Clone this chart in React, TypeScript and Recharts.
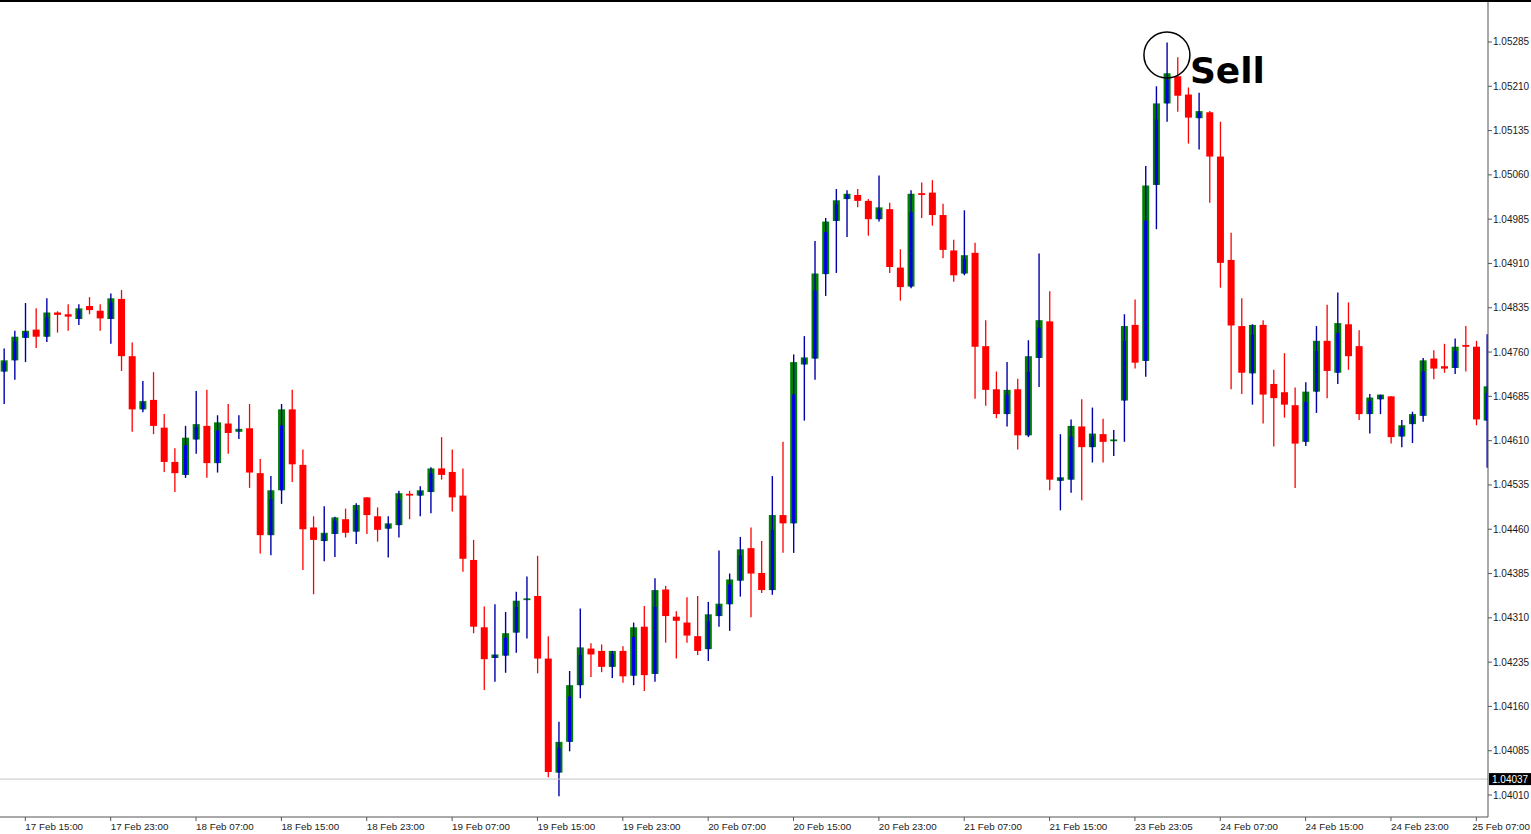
import React from 'react';
import { ComposedChart, Bar, XAxis, YAxis, ReferenceLine, ReferenceDot } from 'recharts';

const opens = [1.04727,1.04746,1.04784,1.04798,1.04786,1.04827,1.04824,1.04816,1.04838,1.04830,
1.04816,1.04850,1.04753,1.04663,1.04679,1.04632,1.04574,1.04552,1.04612,1.04635,
1.04572,1.04639,1.04625,1.04631,1.04555,1.04450,1.04526,1.04663,1.04569,1.04463,
1.04440,1.04452,1.04477,1.04456,1.04514,1.04482,1.04461,1.04467,1.04520,1.04517,
1.04523,1.04563,1.04557,1.04517,1.04408,1.04294,1.04242,1.04246,1.04285,1.04340,
1.04347,1.04241,1.04048,1.04100,1.04196,1.04258,1.04254,1.04227,1.04254,1.04212,
1.04295,1.04215,1.04358,1.04312,1.04302,1.04279,1.04257,1.04313,1.04333,1.04373,
1.04428,1.04386,1.04357,1.04484,1.04470,1.04739,1.04749,1.04892,1.04982,1.05019,
1.05026,1.05016,1.04985,1.05002,1.04903,1.04871,1.05029,1.05030,1.04992,1.04932,
1.04893,1.04928,1.04770,1.04697,1.04655,1.04697,1.04619,1.04750,1.04812,1.04542,
1.04544,1.04634,1.04599,1.04621,1.04609,1.04678,1.04806,1.04745,1.05043,1.05181,
1.05227,1.05196,1.05156,1.05166,1.05091,1.04916,1.04804,1.04724,1.04806,1.04706,
1.04692,1.04670,1.04608,1.04693,1.04779,1.04725,1.04807,1.04770,1.04655,1.04680,
1.04685,1.04617,1.04638,1.04652,1.04749,1.04736,1.04733,1.04772,1.04769,1.04644];

const highs = [1.04766,1.04796,1.04843,1.04834,1.04851,1.04829,1.04841,1.04841,1.04853,1.04841,
1.04859,1.04865,1.04776,1.04711,1.04726,1.04655,1.04597,1.04635,1.04694,1.04696,
1.04653,1.04672,1.04653,1.04672,1.04579,1.04550,1.04672,1.04696,1.04595,1.04482,
1.04499,1.04481,1.04495,1.04504,1.04514,1.04497,1.04482,1.04525,1.04525,1.04533,
1.04565,1.04616,1.04595,1.04563,1.04442,1.04329,1.04333,1.04320,1.04354,1.04380,
1.04415,1.04279,1.04134,1.04220,1.04326,1.04267,1.04265,1.04254,1.04262,1.04302,
1.04330,1.04377,1.04364,1.04321,1.04345,1.04347,1.04337,1.04424,1.04385,1.04447,
1.04463,1.04440,1.04550,1.04608,1.04756,1.04787,1.04948,1.04987,1.05036,1.05034,
1.05036,1.05019,1.05059,1.05013,1.04934,1.05034,1.05047,1.05051,1.05011,1.04950,
1.05000,1.04945,1.04814,1.04727,1.04743,1.04715,1.04780,1.04927,1.04863,1.04621,
1.04646,1.04680,1.04666,1.04647,1.04628,1.04824,1.04849,1.05075,1.05210,1.05284,
1.05259,1.05208,1.05199,1.05168,1.05150,1.04962,1.04851,1.04807,1.04814,1.04730,
1.04758,1.04700,1.04709,1.04804,1.04840,1.04861,1.04844,1.04797,1.04689,1.04688,
1.04685,1.04645,1.04659,1.04750,1.04763,1.04774,1.04783,1.04804,1.04779,1.04790];

const lows = [1.04672,1.04713,1.04743,1.04767,1.04777,1.04793,1.04796,1.04806,1.04824,1.04796,
1.04774,1.04728,1.04625,1.04658,1.04621,1.04557,1.04523,1.04547,1.04588,1.04547,
1.04556,1.04588,1.04613,1.04530,1.04419,1.04416,1.04503,1.04540,1.04391,1.04350,
1.04406,1.04413,1.04446,1.04435,1.04452,1.04439,1.04412,1.04446,1.04477,1.04482,
1.04487,1.04544,1.04490,1.04388,1.04284,1.04188,1.04202,1.04217,1.04251,1.04275,
1.04216,1.04040,1.04008,1.04084,1.04174,1.04210,1.04218,1.04208,1.04200,1.04196,
1.04186,1.04202,1.04268,1.04241,1.04268,1.04247,1.04237,1.04295,1.04288,1.04346,
1.04311,1.04352,1.04349,1.04420,1.04420,1.04644,1.04713,1.04855,1.04894,1.04955,
1.05005,1.04957,1.04981,1.04894,1.04847,1.04868,1.04987,1.04974,1.04919,1.04879,
1.04890,1.04681,1.04669,1.04648,1.04634,1.04595,1.04616,1.04701,1.04526,1.04492,
1.04522,1.04509,1.04573,1.04573,1.04584,1.04608,1.04732,1.04718,1.04968,1.05150,
1.05167,1.05113,1.05103,1.05013,1.04869,1.04697,1.04689,1.04671,1.04639,1.04600,
1.04649,1.04530,1.04601,1.04657,1.04682,1.04706,1.04730,1.04645,1.04622,1.04655,
1.04605,1.04599,1.04606,1.04642,1.04714,1.04725,1.04723,1.04727,1.04636,1.04564];

const closes = [1.04746,1.04786,1.04796,1.04786,1.04827,1.04823,1.04820,1.04834,1.04831,1.04817,
1.04851,1.04753,1.04663,1.04677,1.04635,1.04574,1.04555,1.04615,1.04638,1.04572,
1.04641,1.04623,1.04630,1.04556,1.04450,1.04526,1.04663,1.04570,1.04460,1.04442,
1.04454,1.04480,1.04454,1.04501,1.04484,1.04459,1.04470,1.04521,1.04517,1.04526,
1.04563,1.04552,1.04514,1.04410,1.04295,1.04240,1.04248,1.04284,1.04339,1.04343,
1.04241,1.04049,1.04100,1.04196,1.04260,1.04248,1.04227,1.04254,1.04211,1.04294,
1.04213,1.04357,1.04313,1.04305,1.04280,1.04254,1.04316,1.04334,1.04375,1.04426,
1.04385,1.04357,1.04484,1.04470,1.04743,1.04751,1.04893,1.04981,1.05017,1.05028,
1.05016,1.04985,1.05005,1.04904,1.04870,1.05028,1.05026,1.04992,1.04933,1.04890,
1.04924,1.04769,1.04696,1.04655,1.04696,1.04619,1.04753,1.04814,1.04544,1.04548,
1.04635,1.04599,1.04622,1.04608,1.04612,1.04804,1.04742,1.05042,1.05181,1.05232,
1.05194,1.05157,1.05168,1.05091,1.04911,1.04805,1.04725,1.04806,1.04688,1.04682,
1.04671,1.04605,1.04693,1.04779,1.04728,1.04809,1.04753,1.04655,1.04683,1.04688,
1.04616,1.04636,1.04655,1.04746,1.04732,1.04732,1.04769,1.04769,1.04646,1.04702];

const timeTickIndex = [2, 10, 18, 26, 34, 42, 50, 58, 66, 74, 82, 90, 98, 106, 114, 122, 130, 138];
const timeTickLabels = ['17 Feb 15:00', '17 Feb 23:00', '18 Feb 07:00', '18 Feb 15:00', '18 Feb 23:00',
  '19 Feb 07:00', '19 Feb 15:00', '19 Feb 23:00', '20 Feb 07:00', '20 Feb 15:00', '20 Feb 23:00',
  '21 Feb 07:00', '21 Feb 15:00', '23 Feb 23:05', '24 Feb 07:00', '24 Feb 15:00', '24 Feb 23:00', '25 Feb 07:00'];

const priceTicks = [1.05285, 1.0521, 1.05135, 1.0506, 1.04985, 1.0491, 1.04835, 1.0476, 1.04685,
  1.0461, 1.04535, 1.0446, 1.04385, 1.0431, 1.04235, 1.0416, 1.04085, 1.0401];

const bidPrice = 1.04037;
const signalIndex = 109;
const signalPrice = 1.05263;
const signalText = 'Sell';

const data = opens.map((o, i) => ({
  i,
  o,
  h: highs[i],
  l: lows[i],
  c: closes[i],
  range: [lows[i], highs[i]],
}));

const FONT = '"Liberation Sans", Arial, sans-serif';
const BULL_BODY = '#008000';
const BULL_WICK = '#0000aa';
const BULL_INNER = '#0000e6';
const BEAR = '#ff0000';
const CHART_W = 1531;

const Candle = (props: any) => {
  const { x, y, width, height, payload } = props;
  if (!payload || x == null || y == null) return null;
  const { o, h, l, c } = payload;
  const top = Math.min(y, y + height);
  const hh = Math.abs(height);
  const cx = x + width / 2;
  const py = (p: number) => top + ((h - p) / (h - l)) * hh;
  const bull = c >= o;
  const bTop = py(Math.max(o, c));
  let bBot = py(Math.min(o, c));
  if (bBot - bTop < 1.5) bBot = bTop + 1.5;
  const bw = 7;
  if (bull) {
    const bh = bBot - bTop;
    const iTop = bTop + bh * 0.2;
    return (
      <g>
        <rect x={cx - bw / 2} y={bTop} width={bw} height={bh} fill={BULL_BODY} />
        <line x1={cx} x2={cx} y1={top} y2={top + hh} stroke={BULL_WICK} strokeWidth={1.4} />
        {bh > 3 && <rect x={cx - 1.6} y={iTop} width={3.2} height={bBot - iTop} fill={BULL_INNER} />}
      </g>
    );
  }
  return (
    <g>
      <line x1={cx} x2={cx} y1={top} y2={top + hh} stroke={BEAR} strokeWidth={1.3} />
      <rect x={cx - bw / 2} y={bTop} width={bw} height={bBot - bTop} fill={BEAR} />
    </g>
  );
};

const XTick = (props: any) => {
  const { x, y, payload } = props;
  const k = timeTickIndex.indexOf(payload.value);
  const label = k >= 0 ? timeTickLabels[k] : '';
  const fits = x + 58 <= CHART_W;
  return (
    <g>
      <line x1={x} x2={x} y1={y} y2={y + 4} stroke="#555" strokeWidth={1} />
      <text
        x={fits ? x : CHART_W - 1}
        y={y + 13}
        textAnchor={fits ? 'start' : 'end'}
        fontSize={9.8}
        fontFamily={FONT}
        fill="#1a1a1a"
      >
        {label}
      </text>
    </g>
  );
};

const YTick = (props: any) => {
  const { x, y, payload } = props;
  return (
    <g>
      <line x1={x} x2={x + 4} y1={y} y2={y} stroke="#555" strokeWidth={1} />
      <text x={x + 5} y={y + 3.5} textAnchor="start" fontSize={10} fontFamily={FONT} fill="#1a1a1a">
        {Number(payload.value).toFixed(5)}
      </text>
    </g>
  );
};

const BidLabel = (props: any) => {
  const vb = props.viewBox || {};
  const x = (vb.x || 0) + (vb.width || 0) + 1;
  const y = vb.y || 0;
  return (
    <g>
      <rect x={x} y={y - 6} width={42} height={12} fill="#000" />
      <text x={x + 3} y={y + 3.5} fontSize={10} fontFamily={FONT} fill="#fff">
        {bidPrice.toFixed(5)}
      </text>
    </g>
  );
};

const SellLabel = (props: any) => {
  const vb = props.viewBox || {};
  const x = (vb.x || 0) + (vb.width || 0);
  const y = (vb.y || 0) + (vb.height || 0) / 2 + 28;
  return (
    <text x={x} y={y} fontSize={36} fontWeight="bold" fontFamily='"DejaVu Sans", Verdana, sans-serif' fill="#000">
      {signalText}
    </text>
  );
};

export default function App() {
  return (
    <div
      style={{
        position: 'absolute',
        left: 0,
        top: 0,
        width: 1531,
        height: 834,
        background: '#fff',
        borderTop: '2px solid #000',
        boxSizing: 'border-box',
        overflow: 'hidden',
      }}
    >
      <ComposedChart width={1531} height={832} data={data} margin={{ top: 0, right: 0, bottom: 0, left: 0 }}>
        <XAxis
          type="number"
          dataKey="i"
          domain={[-0.375, 139.094]}
          allowDataOverflow
          ticks={timeTickIndex}
          interval={0}
          tickSize={0}
          tickMargin={0}
          height={17}
          stroke="#555"
          tick={<XTick />}
        />
        <YAxis
          orientation="right"
          type="number"
          domain={[1.039728, 1.053527]}
          allowDataOverflow
          ticks={priceTicks}
          interval={0}
          width={43}
          tickSize={0}
          tickMargin={0}
          stroke="#555"
          tick={<YTick />}
        />
        <ReferenceLine y={bidPrice} stroke="#c4c4c4" strokeWidth={1} label={<BidLabel />} />
        <Bar dataKey="range" barSize={7} isAnimationActive={false} shape={<Candle />} />
        <ReferenceDot
          x={signalIndex}
          y={signalPrice}
          r={23}
          fill="none"
          stroke="#000"
          strokeWidth={1.5}
          label={<SellLabel />}
        />
      </ComposedChart>
    </div>
  );
}
